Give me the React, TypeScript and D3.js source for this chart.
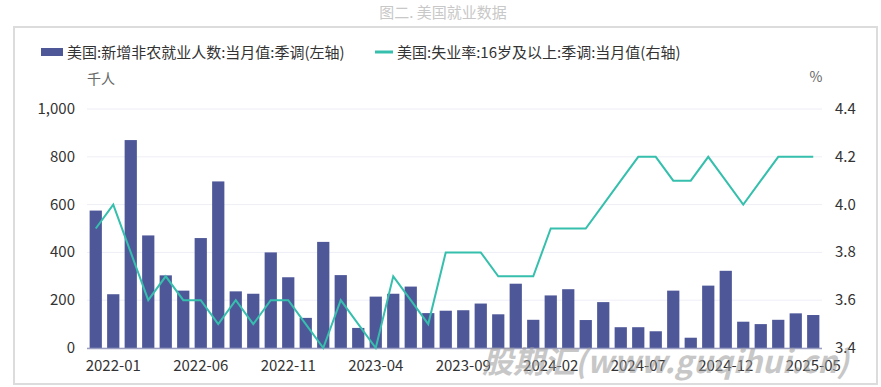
import React from "react";
import * as d3 from "d3";

const months: string[] = [
  "2021-12","2022-01","2022-02","2022-03","2022-04","2022-05","2022-06","2022-07","2022-08","2022-09","2022-10","2022-11",
  "2022-12","2023-01","2023-02","2023-03","2023-04","2023-05","2023-06","2023-07","2023-08","2023-09","2023-10","2023-11",
  "2023-12","2024-01","2024-02","2024-03","2024-04","2024-05","2024-06","2024-07","2024-08","2024-09","2024-10","2024-11",
  "2024-12","2025-01","2025-02","2025-03","2025-04","2025-05",
];
const payrolls: number[] = [
  575, 225, 870, 471, 304, 240, 460, 697, 237, 227, 400, 296,
  126, 444, 305, 84, 215, 227, 257, 146, 156, 158, 186, 141,
  269, 118, 220, 246, 117, 192, 87, 87, 70, 240, 43, 261,
  323, 110, 100, 118, 145, 138,
];
const unemployment: number[] = [
  3.9, 4.0, 3.8, 3.6, 3.7, 3.6, 3.6, 3.5, 3.6, 3.5, 3.6, 3.6,
  3.5, 3.4, 3.6, 3.5, 3.4, 3.7, 3.6, 3.5, 3.8, 3.8, 3.8, 3.7,
  3.7, 3.7, 3.9, 3.9, 3.9, 4.0, 4.1, 4.2, 4.2, 4.1, 4.1, 4.2,
  4.1, 4.0, 4.1, 4.2, 4.2, 4.2,
];
const xTickLabels: string[] = ["2022-01","2022-06","2022-11","2023-04","2023-09","2024-02","2024-07","2024-12","2025-05"];
const leftTicks: number[] = [0, 200, 400, 600, 800, 1000];
const rightTicks: number[] = [3.4, 3.6, 3.8, 4.0, 4.2, 4.4];

const W = 881, H = 387;
const FONT = "'Noto Sans CJK SC', 'Noto Sans', sans-serif";
const BAR = "#4e5899";
const LINE = "#36bfad";

export default function App() {
  const x = d3.scaleBand<string>().domain(months).range([87, 822]).paddingInner(0.3).paddingOuter(0.15);
  const yL = d3.scaleLinear().domain([0, 1000]).range([348, 109]);
  const yR = d3.scaleLinear().domain([3.4, 4.4]).range([348, 109]);
  const cx = (m: string) => (x(m) as number) + x.bandwidth() / 2;
  const line = d3.line<number>().x((_, i) => cx(months[i])).y((d) => yR(d));
  const fmt = d3.format(",");
  return (
    <svg width={W} height={H} style={{ position: "absolute", left: 0, top: 0, fontFamily: FONT }}>
      <rect x={0} y={0} width={W} height={H} fill="#fff" />
      <text x={443} y={18} textAnchor="middle" fontSize={15} fill="#c8c8c8">图二. 美国就业数据</text>
      <rect x={14} y={27} width={863} height={357} fill="none" stroke="#dcdcdc" strokeWidth={2} />
      {/* legend */}
      <rect x={41} y={48} width={22} height={8} fill={BAR} />
      <text x={67} y={57.5} fontSize={15} fill="#333">美国:新增非农就业人数:当月值:季调(左轴)</text>
      <line x1={375} x2={393} y1={52} y2={52} stroke={LINE} strokeWidth={3} />
      <text x={397} y={57.5} fontSize={15} fill="#333">美国:失业率:16岁及以上:季调:当月值(右轴)</text>
      <text x={101} y={84} textAnchor="middle" fontSize={14} fill="#666">千人</text>
      <text x={816} y={82} textAnchor="middle" fontSize={14} fill="#666">%</text>
      {/* grid */}
      {leftTicks.map((t) => (
        <line key={"g" + t} x1={87} x2={822} y1={yL(t)} y2={yL(t)} stroke="#eeeef6" strokeWidth={1} />
      ))}
      {leftTicks.map((t) => (
        <text key={"l" + t} x={75} y={yL(t) + 5} textAnchor="end" fontSize={15} fill="#333">{fmt(t)}</text>
      ))}
      {rightTicks.map((t) => (
        <text key={"r" + t} x={835} y={yR(t) + 5} textAnchor="start" fontSize={15} fill="#333">{t.toFixed(1)}</text>
      ))}
      {/* bars */}
      {payrolls.map((v, i) => (
        <rect key={"b" + i} x={x(months[i])} y={yL(v)} width={x.bandwidth()} height={yL(0) - yL(v)} fill={BAR} />
      ))}
      <line x1={87} x2={822} y1={348.5} y2={348.5} stroke="#9a9ec0" strokeWidth={1.5} />
      <path d={line(unemployment) || ""} fill="none" stroke={LINE} strokeWidth={2} />
      {xTickLabels.map((m) => (
        <text key={"x" + m} x={cx(m)} y={371} textAnchor="middle" fontSize={15} fill="#333">{m}</text>
      ))}
      <text x={482} y={373} fontSize={31} fontWeight="bold" fontStyle="italic" fill="#9a9a9a" opacity={0.55}>股期汇(www.guqihui.cn)</text>
    </svg>
  );
}
